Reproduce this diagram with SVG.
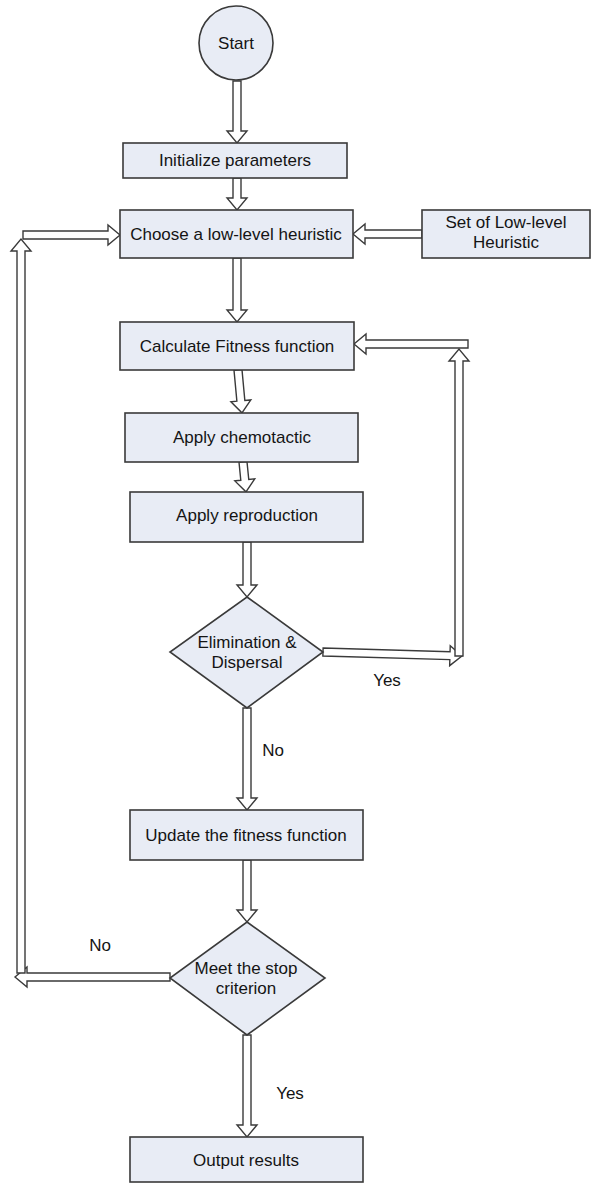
<svg xmlns="http://www.w3.org/2000/svg" width="596" height="1183" viewBox="0 0 596 1183">
  <style>
    .box { fill: #e8ecf5; stroke: #3a3a3a; stroke-width: 1.6; }
    .arrow { fill: #ffffff; stroke: #3a3a3a; stroke-width: 1.4; stroke-linejoin: miter; }
    text { font-family: "Liberation Sans", Arial, sans-serif; font-size: 17px; fill: #141414; text-anchor: middle; }
  </style>
  <rect width="596" height="1183" fill="#ffffff"/>

  <!-- connectors -->
  <g id="connectors">
    <polygon class="arrow" points="233,81 233,131 227,131 237,143 247,131 241,131 241,81"/>
    <polygon class="arrow" points="233,178 233,198 227,198 237,210 247,198 241,198 241,178"/>
    <polygon class="arrow" points="422,230 365,230 365,224 353,234 365,244 365,238 422,238"/>
    <polygon class="arrow" points="233,258 233,310 227,310 237,322 247,310 241,310 241,258"/>
    <polygon class="arrow" points="-4,0 -4,31 -10,31 0,43 10,31 4,31 4,0" transform="translate(238,370) rotate(-5.3)"/>
    <polygon class="arrow" points="-4,0 -4,18 -10,18 0,30 10,18 4,18 4,0" transform="translate(243,462) rotate(-5.7)"/>
    <polygon class="arrow" points="243,542 243,585 237,585 247,597 257,585 251,585 251,542"/>
    <!-- Yes branch: back to fitness calculation -->
    <polygon class="arrow" points="0,-4 127,-4 127,-10 139,0 127,10 127,4 0,4" transform="translate(323,652) rotate(1.65)"/>
    <polygon class="arrow" points="455,656 455,361 449,361 459,349 469,361 463,361 463,656"/>
    <polygon class="arrow" points="468,340 366,340 366,334 354,344 366,354 366,348 468,348"/>
    <!-- No branch -->
    <polygon class="arrow" points="243,708 243,798 237,798 247,810 257,798 251,798 251,708"/>
    <polygon class="arrow" points="243,860 243,910 237,910 247,922 257,910 251,910 251,860"/>
    <!-- stop criterion not met: back to heuristic choice -->
    <polygon class="arrow" points="170,973 27,973 27,967 15,977 27,987 27,981 170,981"/>
    <polygon class="arrow" points="17,973 17,251 11,251 21,239 31,251 25,251 25,973"/>
    <polygon class="arrow" points="23,231 108,231 108,225 120,235 108,245 108,239 23,239"/>
    <polygon class="arrow" points="243,1035 243,1125 237,1125 247,1137 257,1125 251,1125 251,1035"/>
    <text x="387" y="686">Yes</text>
    <text x="273" y="756">No</text>
    <text x="100" y="951">No</text>
    <text x="290" y="1099">Yes</text>
  </g>

  <g id="start">
    <circle class="box" cx="236" cy="43" r="37"/>
    <text x="236" y="49">Start</text>
  </g>
  <g id="init">
    <rect class="box" x="123" y="143" width="224" height="35"/>
    <text x="235" y="166">Initialize parameters</text>
  </g>
  <g id="choose">
    <rect class="box" x="120" y="210" width="233" height="48"/>
    <text x="236" y="240">Choose a low-level heuristic</text>
  </g>
  <g id="heuristic-set">
    <rect class="box" x="422" y="210" width="168" height="48"/>
    <text x="506" y="228">Set of Low-level</text>
    <text x="506" y="248">Heuristic</text>
  </g>
  <g id="fitness">
    <rect class="box" x="120" y="322" width="234" height="48"/>
    <text x="237" y="352">Calculate Fitness function</text>
  </g>
  <g id="chemotactic">
    <rect class="box" x="125" y="413" width="233" height="49"/>
    <text x="242" y="443">Apply chemotactic</text>
  </g>
  <g id="reproduction">
    <rect class="box" x="130" y="492" width="233" height="50"/>
    <text x="247" y="521">Apply reproduction</text>
  </g>
  <g id="elimination">
    <polygon class="box" points="247,597 323,652 247,708 170,652"/>
    <text x="247" y="648">Elimination &amp;</text>
    <text x="247" y="668">Dispersal</text>
  </g>
  <g id="update">
    <rect class="box" x="130" y="810" width="233" height="50"/>
    <text x="246" y="841">Update the fitness function</text>
  </g>
  <g id="stop-check">
    <polygon class="box" points="247,922 325,978 247,1035 170,978"/>
    <text x="246" y="974">Meet the stop</text>
    <text x="246" y="994">criterion</text>
  </g>
  <g id="output">
    <rect class="box" x="130" y="1137" width="233" height="45"/>
    <text x="246" y="1166">Output results</text>
  </g>
</svg>
